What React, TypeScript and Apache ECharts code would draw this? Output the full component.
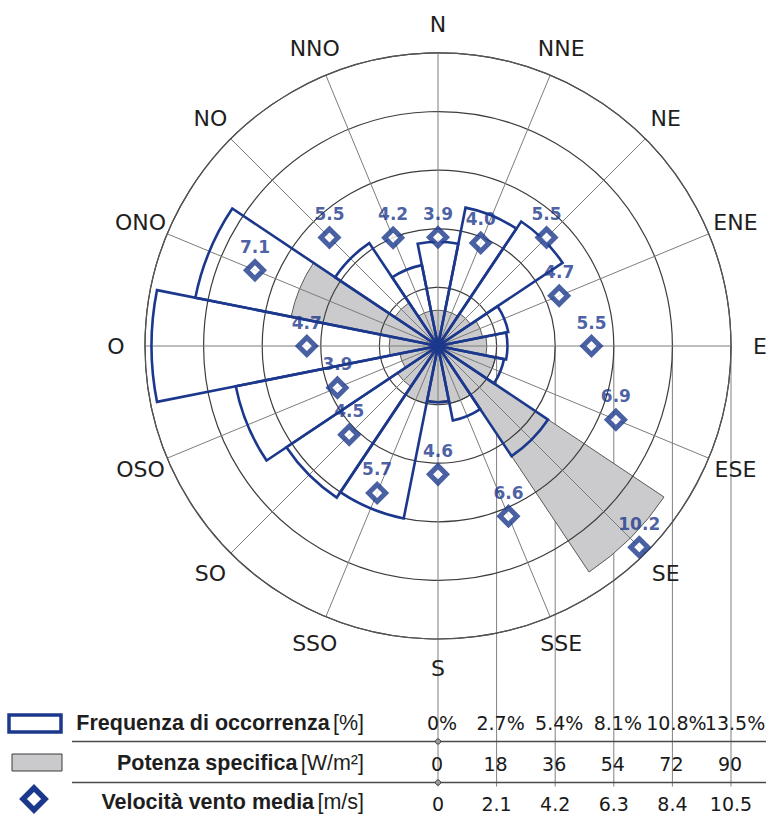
import React, { useEffect, useRef } from 'react';
import * as echarts from 'echarts';

// ---- data ----
const directions = ['N', 'NNE', 'NE', 'ENE', 'E', 'ESE', 'SE', 'SSE', 'S', 'SSO', 'SO', 'OSO', 'O', 'ONO', 'NO', 'NNO'];
// Frequenza di occorrenza [%]
const frequency = [4.8, 6.5, 6.9, 3.3, 3.2, 3.1, 6.1, 3.5, 2.6, 8.1, 8.4, 9.5, 13.2, 11.4, 5.7, 3.8];
// Potenza specifica [W/m2]
const power = [11, 11, 12, 14, 15, 18, 83.5, 18, 17, 18, 15, 12, 15, 46, 16, 11];
// Velocità vento media [m/s]
const speed = [3.9, 4.0, 5.5, 4.7, 5.5, 6.9, 10.2, 6.6, 4.6, 5.7, 4.5, 3.9, 4.7, 7.1, 5.5, 4.2];

const freqTicks = ['0%', '2.7%', '5.4%', '8.1%', '10.8%', '13.5%'];
const powerTicks = ['0', '18', '36', '54', '72', '90'];
const speedTicks = ['0', '2.1', '4.2', '6.3', '8.4', '10.5'];

const FREQ_MAX = 13.5;
const POWER_MAX = 90;
const SPEED_MAX = 10.5;

// ---- layout / style ----
const BLUE = '#1c388c';
const CX = 438;
const CY = 346;
const R = 293;
const FONT = 'DejaVu Sans, Noto Sans, sans-serif';
const TFONT = 'Liberation Sans, Arial, sans-serif';

export default function App() {
  const ref = useRef<HTMLDivElement>(null);

  useEffect(() => {
    document.body.style.margin = '0';
    const chart = echarts.init(ref.current as HTMLDivElement, null, { renderer: 'svg' });

    const polar = [0, 1, 2, 3].map(() => ({ center: [CX, CY], radius: R }));
    const sector = 360 / directions.length;

    const catAngle = (i: number) => ({
      polarIndex: i,
      type: 'category',
      data: directions,
      boundaryGap: false,
      startAngle: 90,
      clockwise: true,
      show: false,
    });

    const angleAxis: any[] = [
      {
        polarIndex: 0,
        type: 'value',
        min: 0,
        max: 360,
        interval: sector,
        startAngle: 90,
        clockwise: true,
        z: 3,
        axisLine: { show: true, lineStyle: { color: '#555555', width: 1.2 } },
        axisTick: { show: false },
        axisLabel: { show: false },
        splitLine: { show: true, lineStyle: { color: '#7c7c7c', width: 1 } },
      },
      catAngle(1),
      catAngle(2),
      catAngle(3),
    ];

    const radiusAxis: any[] = [
      {
        polarIndex: 0,
        type: 'value',
        min: 0,
        max: FREQ_MAX,
        interval: FREQ_MAX / 5,
        z: 3,
        axisLine: { show: false },
        axisTick: { show: false },
        axisLabel: { show: false },
        splitLine: { show: true, lineStyle: { color: '#3c3c3c', width: 1.2 } },
      },
      { polarIndex: 1, type: 'value', min: 0, max: POWER_MAX, show: false, splitLine: { show: false } },
      { polarIndex: 2, type: 'value', min: 0, max: SPEED_MAX, show: false, splitLine: { show: false } },
      { polarIndex: 3, type: 'value', min: 0, max: FREQ_MAX, show: false, splitLine: { show: false } },
    ];

    const step = R / 5;
    const yTop1 = 741.5;
    const yTop2 = 782.5;
    const graphic: any[] = [];

    // direction names round the rose
    const labelR = R + 29;
    directions.forEach((d, i) => {
      const a = (i * sector * Math.PI) / 180;
      graphic.push({
        type: 'text',
        x: CX + labelR * Math.sin(a),
        y: CY - labelR * Math.cos(a),
        z: 4,
        style: { text: d, fill: '#1e1e1e', fontSize: 22, fontFamily: FONT, align: 'center', verticalAlign: 'middle' },
      });
    });

    // vertical reference lines from the E axis to the table
    for (let k = 0; k <= 5; k++) {
      const x = CX + step * k;
      graphic.push({
        type: 'line',
        shape: { x1: x, y1: k === 0 ? CY + R : CY, x2: x, y2: yTop2 + 4 },
        style: { stroke: '#808080', lineWidth: 1 },
        z: 1,
      });
    }
    // table horizontal lines
    [yTop1, yTop2].forEach((y) => {
      graphic.push({ type: 'line', shape: { x1: 72, y1: y, x2: 766, y2: y }, style: { stroke: '#4a4a4a', lineWidth: 1.3 }, z: 1 });
      graphic.push({ type: 'circle', shape: { cx: CX, cy: y, r: 2.6 }, style: { fill: '#9a9a9a', stroke: '#444', lineWidth: 1 }, z: 2 });
    });

    // tick values
    const rows = [
      { ticks: freqTicks, y: 723, dx: 4 },
      { ticks: powerTicks, y: 764, dx: -1 },
      { ticks: speedTicks, y: 804, dx: 0 },
    ];
    rows.forEach((row) => {
      row.ticks.forEach((t, k) => {
        graphic.push({
          type: 'text',
          x: CX + step * k + row.dx,
          y: row.y,
          z: 3,
          style: { text: t, fill: '#1a1a1a', fontSize: 19, fontFamily: FONT, align: 'center', verticalAlign: 'middle' },
        });
      });
    });

    // row titles
    const rich = {
      b: { fontWeight: 'bold', fontSize: 21.5, fontFamily: TFONT, fill: '#1e1e1e' },
      r: { fontWeight: 'normal', fontSize: 21.5, fontFamily: TFONT, fill: '#1e1e1e' },
    };
    const titles = [
      { text: '{b|Frequenza di occorrenza} {r|[%]}', y: 723 },
      { text: '{b|Potenza specifica} {r|[W/m²]}', y: 763 },
      { text: '{b|Velocità vento media} {r|[m/s]}', y: 802 },
    ];
    titles.forEach((t) => {
      graphic.push({
        type: 'text',
        x: 364,
        y: t.y,
        z: 3,
        style: { text: t.text, rich, align: 'right', verticalAlign: 'middle' },
      });
    });

    // legend symbols
    graphic.push({ type: 'rect', shape: { x: 9, y: 715, width: 52, height: 17 }, style: { fill: '#fff', stroke: BLUE, lineWidth: 3.5 }, z: 3 });
    graphic.push({ type: 'rect', shape: { x: 12, y: 754, width: 50, height: 17 }, style: { fill: '#cacacc', stroke: '#3a3a3a', lineWidth: 1 }, z: 3 });
    graphic.push({
      type: 'polygon',
      shape: { points: [[34, 788], [45, 799], [34, 810], [23, 799]] },
      style: { fill: '#fff', stroke: BLUE, lineWidth: 5.5, lineJoin: 'miter' },
      z: 3,
    });

    const option: any = {
      animation: false,
      backgroundColor: '#ffffff',
      polar,
      angleAxis,
      radiusAxis,
      graphic,
      series: [
        {
          name: 'Potenza specifica',
          type: 'bar',
          coordinateSystem: 'polar',
          polarIndex: 1,
          data: power,
          barCategoryGap: '0%',
          z: 1,
          itemStyle: { color: '#cbcbcd', borderColor: '#5a5a5a', borderWidth: 1 },
        },
        {
          name: 'Frequenza di occorrenza',
          type: 'bar',
          coordinateSystem: 'polar',
          polarIndex: 3,
          data: frequency,
          barCategoryGap: '0%',
          z: 5,
          itemStyle: { color: 'rgba(0,0,0,0)', borderColor: BLUE, borderWidth: 2.6 },
        },
        {
          name: 'Velocità vento media',
          type: 'scatter',
          coordinateSystem: 'polar',
          polarIndex: 2,
          data: speed.map((v, i) => [v, directions[i]]),
          symbol: 'diamond',
          symbolSize: 17,
          z: 6,
          itemStyle: { color: '#ffffff', borderColor: BLUE, borderWidth: 5 },
          label: {
            show: true,
            position: 'top',
            distance: 4,
            formatter: (p: any) => Number(p.value[0]).toFixed(1),
            color: BLUE,
            textBorderWidth: 0,
            fontWeight: 'bold',
            fontSize: 17,
            fontFamily: FONT,
          },
        },
      ],
    };

    chart.setOption(option);
    return () => chart.dispose();
  }, []);

  return <div ref={ref} style={{ width: 766, height: 819 }} />;
}
